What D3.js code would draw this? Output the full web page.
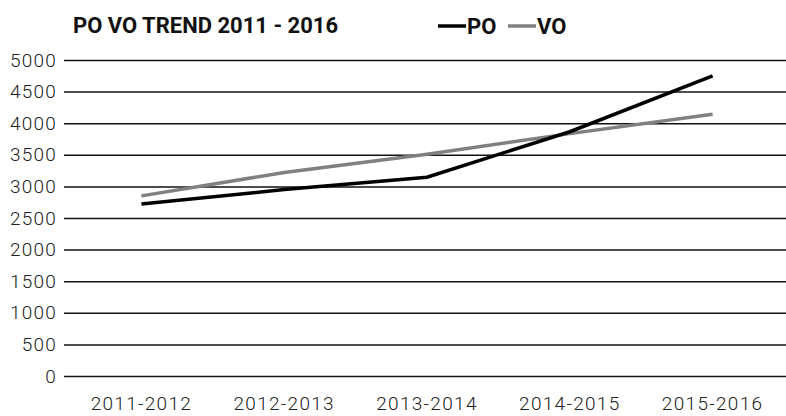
<!DOCTYPE html>
<html>
<head>
<meta charset="utf-8">
<script src="https://cdn.jsdelivr.net/npm/d3@7"></script>
<style>
  body { margin: 0; background: #fff; }
  svg text { font-family: Roboto, "Noto Sans", sans-serif; }
</style>
</head>
<body>
<svg id="chart"></svg>
<script>
// PO / VO trend by fiscal year
const periods = ["2011-2012", "2012-2013", "2013-2014", "2014-2015", "2015-2016"];
const poValues = [2720, 2950, 3145, 3865, 4750];
const voValues = [2850, 3220, 3510, 3835, 4140];
const yTicks = [0, 500, 1000, 1500, 2000, 2500, 3000, 3500, 4000, 4500, 5000];
const seriesNames = ["PO", "VO"];
const seriesColors = ["#000000", "#808080"];

const width = 786, height = 416;
const margin = {top: 60, right: 2, bottom: 40, left: 70};

const svg = d3.select("#chart")
  .attr("width", width)
  .attr("height", height);

// scales
const xScale = d3.scaleBand()
  .domain(periods)
  .range([margin.left, width - margin.right]);

const yScale = d3.scaleLinear()
  .domain([0, 5000])
  .range([height - margin.bottom, margin.top]);

// y axis used as the gridlines
const axisX = 64;
const yAxis = d3.axisLeft(yScale)
  .tickValues(yTicks)
  .tickSizeInner(-(width - axisX))
  .tickSizeOuter(0)
  .tickPadding(7)
  .tickFormat(d3.format("d"));

const yAxisG = svg.append("g")
  .attr("transform", `translate(${axisX},0)`)
  .call(yAxis);
yAxisG.select(".domain").remove();
yAxisG.selectAll(".tick line")
  .attr("stroke", "#111")
  .attr("stroke-width", 1.5);
yAxisG.selectAll(".tick text")
  .attr("fill", "#222")
  .style("font-size", "19px")
  .style("font-weight", 300)
  .style("letter-spacing", "1.2px");

// x axis labels only
const xAxis = d3.axisBottom(xScale).tickSize(0).tickPadding(0);
const xAxisG = svg.append("g")
  .attr("transform", `translate(0,${height - margin.bottom})`)
  .call(xAxis);
xAxisG.select(".domain").remove();
xAxisG.selectAll(".tick text")
  .attr("y", 34)
  .attr("dy", 0)
  .attr("fill", "#222")
  .style("font-size", "19px")
  .style("font-weight", 300)
  .style("letter-spacing", "1.3px");

// lines
const line = d3.line()
  .x((d, i) => xScale(periods[i]) + xScale.bandwidth() / 2)
  .y(d => yScale(d));

const series = [poValues, voValues];
// draw VO first so PO sits on top where they cross
[1, 0].forEach(k => {
  svg.append("path")
    .datum(series[k])
    .attr("fill", "none")
    .attr("stroke", seriesColors[k])
    .attr("stroke-width", 3.5)
    .attr("d", line);
});

// title
svg.append("text")
  .attr("x", 73)
  .attr("y", 33)
  .style("font-size", "22px")
  .style("font-weight", 700)
  .attr("fill", "#111")
  .text("PO VO TREND 2011 - 2016");

// legend
const legendX = [438, 508];
seriesNames.forEach((name, i) => {
  const g = svg.append("g").attr("transform", `translate(${legendX[i]},26)`);
  g.append("line")
    .attr("x1", 0).attr("x2", 28)
    .attr("stroke", seriesColors[i])
    .attr("stroke-width", 3.5);
  g.append("text")
    .attr("x", 29)
    .attr("y", 7.5)
    .style("font-size", "22px")
    .style("font-weight", 700)
    .attr("fill", "#111")
    .text(name);
});
</script>
</body>
</html>
